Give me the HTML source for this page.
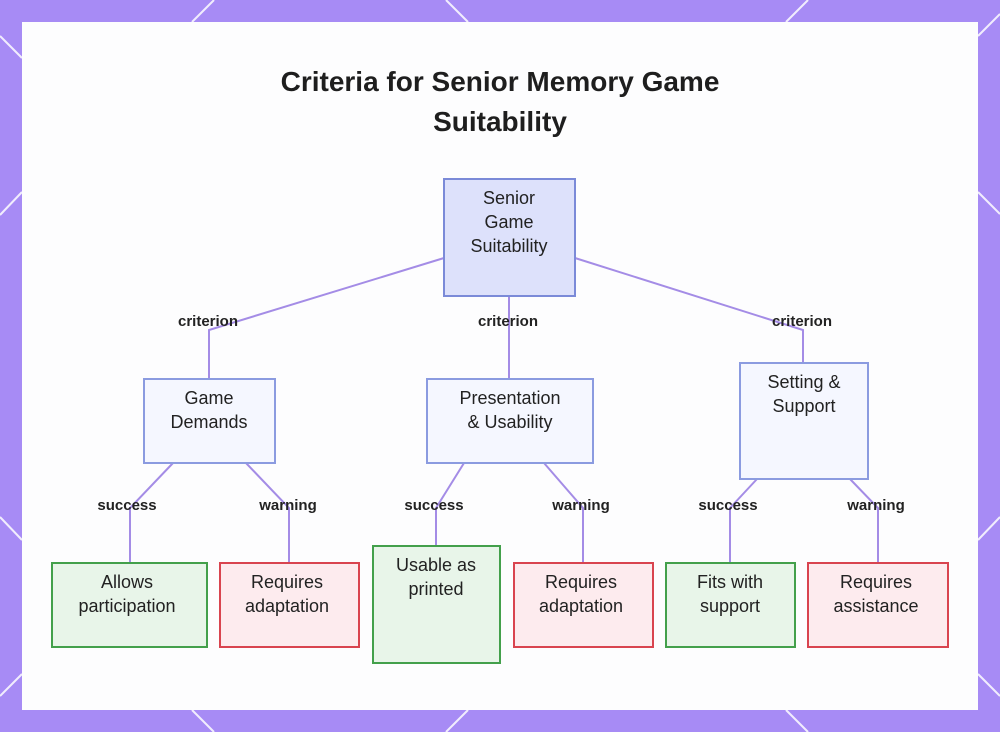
<!DOCTYPE html>
<html><head><meta charset="utf-8"><style>
html,body{margin:0;padding:0;width:1000px;height:732px;overflow:hidden;background:#a78bf5;font-family:"Liberation Sans",sans-serif;}
</style></head><body>
<svg width="1000" height="732" viewBox="0 0 1000 732" xmlns="http://www.w3.org/2000/svg" style="position:absolute;left:0;top:0">
<rect width="1000" height="732" fill="#a78bf5"/>
<g stroke="#fff" stroke-width="2" opacity="0.85">
<line x1="192" y1="22" x2="214" y2="0"/><line x1="446" y1="0" x2="468" y2="22"/>
<line x1="0" y1="36" x2="22" y2="58"/><line x1="0" y1="215" x2="22" y2="192"/>
<line x1="0" y1="517" x2="22" y2="540"/><line x1="0" y1="696" x2="22" y2="674"/>
<line x1="192" y1="710" x2="214" y2="732"/><line x1="446" y1="732" x2="468" y2="710"/>
<line x1="978" y1="36" x2="1000" y2="14"/><line x1="978" y1="192" x2="1000" y2="214"/>
<line x1="978" y1="540" x2="1000" y2="517"/><line x1="978" y1="674" x2="1000" y2="696"/>
<line x1="786" y1="710" x2="808" y2="732"/><line x1="786" y1="22" x2="808" y2="0"/>
</g>
<rect x="22" y="22" width="956" height="688" fill="#fdfdfe"/>
<g fill="none" stroke="#a48ce6" stroke-width="2">
<polyline points="444,258 209,330 209,379"/>
<polyline points="509,296 509,379"/>
<polyline points="575,258 803,330 803,363"/>
<polyline points="173,463 130,508 130,562"/>
<polyline points="246,463 289,508 289,562"/>
<polyline points="464,463 436,508 436,546"/>
<polyline points="544,463 583,508 583,562"/>
<polyline points="757,479 730,508 730,562"/>
<polyline points="850,479 878,508 878,562"/>
</g>
<g font-size="15" font-weight="bold" fill="#222" text-anchor="middle">
<text x="208" y="326">criterion</text><text x="508" y="326">criterion</text><text x="802" y="326">criterion</text>
<text x="127" y="510">success</text><text x="288" y="510">warning</text>
<text x="434" y="510">success</text><text x="581" y="510">warning</text>
<text x="728" y="510">success</text><text x="876" y="510">warning</text>
</g>
<text x="500" y="91" font-size="28" font-weight="bold" fill="#1e1e1e" text-anchor="middle">Criteria for Senior Memory Game</text>
<text x="500" y="131" font-size="28" font-weight="bold" fill="#1e1e1e" text-anchor="middle">Suitability</text>
<g stroke-width="2">
<rect x="444" y="179" width="131" height="117" fill="#dde1fb" stroke="#7b8ad8"/>
<rect x="144" y="379" width="131" height="84" fill="#f5f7ff" stroke="#8b9be0"/>
<rect x="427" y="379" width="166" height="84" fill="#f5f7ff" stroke="#8b9be0"/>
<rect x="740" y="363" width="128" height="116" fill="#f5f7ff" stroke="#8b9be0"/>
<rect x="52" y="563" width="155" height="84" fill="#e8f5e9" stroke="#43a04b"/>
<rect x="220" y="563" width="139" height="84" fill="#fdebee" stroke="#d9444f"/>
<rect x="373" y="546" width="127" height="117" fill="#e8f5e9" stroke="#43a04b"/>
<rect x="514" y="563" width="139" height="84" fill="#fdebee" stroke="#d9444f"/>
<rect x="666" y="563" width="129" height="84" fill="#e8f5e9" stroke="#43a04b"/>
<rect x="808" y="563" width="140" height="84" fill="#fdebee" stroke="#d9444f"/>
</g>
<g font-size="18" fill="#222" text-anchor="middle">
<text x="509" y="204">Senior</text><text x="509" y="228">Game</text><text x="509" y="252">Suitability</text>
<text x="209" y="404">Game</text><text x="209" y="428">Demands</text>
<text x="510" y="404">Presentation</text><text x="510" y="428">&amp; Usability</text>
<text x="804" y="388">Setting &amp;</text><text x="804" y="412">Support</text>
<text x="127" y="588">Allows</text><text x="127" y="612">participation</text>
<text x="287" y="588">Requires</text><text x="287" y="612">adaptation</text>
<text x="436" y="571">Usable as</text><text x="436" y="595">printed</text>
<text x="581" y="588">Requires</text><text x="581" y="612">adaptation</text>
<text x="730" y="588">Fits with</text><text x="730" y="612">support</text>
<text x="876" y="588">Requires</text><text x="876" y="612">assistance</text>
</g>
</svg>
</body></html>
